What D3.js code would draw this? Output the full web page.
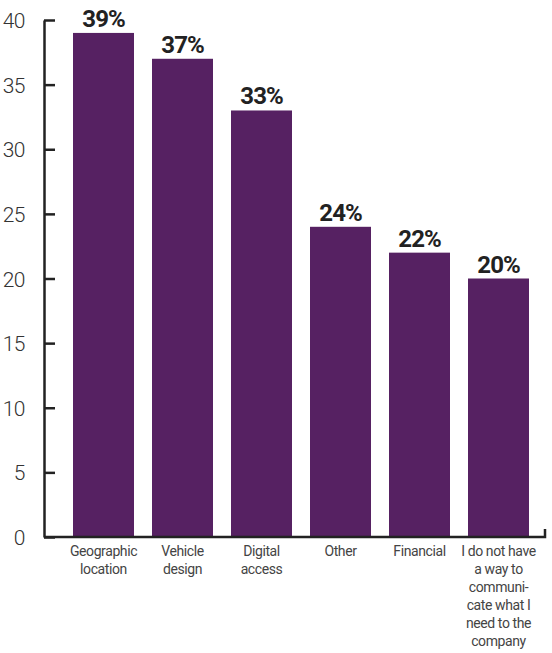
<!DOCTYPE html>
<html>
<head>
<meta charset="utf-8">
<script src="https://cdn.jsdelivr.net/npm/d3@7"></script>
<style>
  html, body { margin: 0; padding: 0; background: #fff; }
  svg { display: block; }
  .txt { font-family: "Roboto", sans-serif; }
</style>
</head>
<body>
<svg id="chart" width="552" height="653"></svg>
<script>
// Reasons given, share of respondents (%)
const categories = ["Geographic location", "Vehicle design", "Digital access", "Other", "Financial", "I do not have a way to communicate what I need to the company"];
const categoryLines = [
  ["Geographic", "location"],
  ["Vehicle", "design"],
  ["Digital", "access"],
  ["Other"],
  ["Financial"],
  ["I do not have", "a way to", "communi-", "cate what I", "need to the", "company"]
];
const values = [39, 37, 33, 24, 22, 20];
const yTicks = [0, 5, 10, 15, 20, 25, 30, 35, 40];

const svg = d3.select("#chart");
const barColor = "#562162";

const y = d3.scaleLinear().domain([0, 40]).range([537, 20]);
const x = d3.scaleBand()
  .domain(categories)
  .range([64, 538])
  .paddingInner(0.228)
  .paddingOuter(0.114);

// bars
svg.append("g").selectAll("rect")
  .data(values)
  .join("rect")
  .attr("x", (d, i) => x(categories[i]))
  .attr("y", d => y(d))
  .attr("width", x.bandwidth())
  .attr("height", d => y(0) - y(d))
  .attr("fill", barColor);

// value labels
svg.append("g").selectAll("text")
  .data(values)
  .join("text")
  .attr("class", "txt")
  .attr("x", (d, i) => x(categories[i]) + x.bandwidth() / 2)
  .attr("y", d => y(d) - 6)
  .attr("text-anchor", "middle")
  .attr("font-size", 24)
  .attr("font-weight", "bold")
  .attr("letter-spacing", -1)
  .attr("fill", "#222")
  .text(d => d + "%");

// y axis
const yAxis = d3.axisLeft(y).tickValues(yTicks).tickSize(11).tickSizeOuter(0).tickPadding(8);
const gy = svg.append("g").attr("transform", "translate(44,0)").call(yAxis);
gy.select(".domain").attr("stroke", "#222").attr("stroke-width", 2.5);
gy.selectAll(".tick line").attr("x2", 11).attr("stroke", "#222").attr("stroke-width", 2.5);
gy.selectAll(".tick text")
  .attr("class", "txt")
  .attr("font-size", 21)
  .attr("font-weight", 300)
  .attr("letter-spacing", -0.5)
  .attr("fill", "#333")
  .attr("dy", "0.36em");

// x baseline with end tick
svg.append("path")
  .attr("d", `M44,${y(0)}H545V${y(0) - 8}`)
  .attr("fill", "none")
  .attr("stroke", "#222")
  .attr("stroke-width", 2.5);

// category labels
const xl = svg.append("g");
categoryLines.forEach((lines, i) => {
  const t = xl.append("text")
    .attr("class", "txt")
    .attr("x", x(categories[i]) + x.bandwidth() / 2)
    .attr("y", 556)
    .attr("text-anchor", "middle")
    .attr("font-size", 14)
    .attr("letter-spacing", -0.4)
    .attr("fill", "#444");
  lines.forEach((ln, j) => {
    t.append("tspan")
      .attr("x", x(categories[i]) + x.bandwidth() / 2)
      .attr("dy", j === 0 ? 0 : 18)
      .text(ln);
  });
});
</script>
</body>
</html>
